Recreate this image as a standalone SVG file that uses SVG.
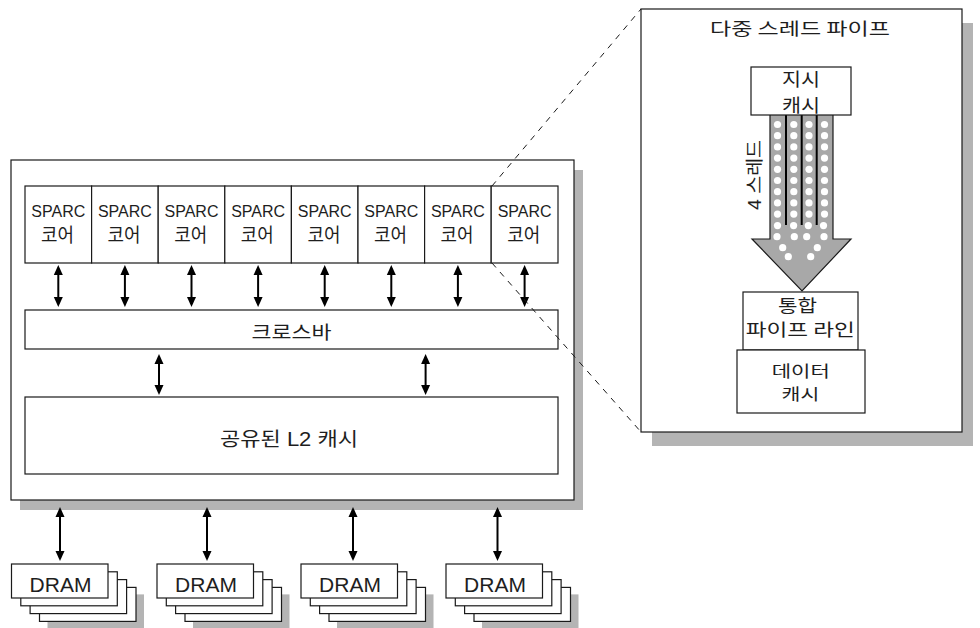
<svg xmlns="http://www.w3.org/2000/svg" width="980" height="628" viewBox="0 0 980 628">
<style>
.box{fill:#fff;stroke:#1a1a1a;stroke-width:1.2}
.shadow{fill:#b4b4b4}
.t{font-family:"Liberation Sans","Noto Sans CJK KR",Arial,sans-serif;fill:#1e1e1e;text-anchor:middle}
.k{font-family:"Noto Sans CJK KR","Liberation Sans",sans-serif;fill:#1e1e1e;text-anchor:middle}
.arr{stroke:#000;stroke-width:2;fill:none;marker-start:url(#ah);marker-end:url(#ah)}
.dash{stroke:#1a1a1a;stroke-width:1;stroke-dasharray:6 6;fill:none}
.dot{fill:#fff}
</style>
<defs>
<marker id="ah" viewBox="0 0 10 10" refX="7" refY="5" markerWidth="10" markerHeight="10" markerUnits="userSpaceOnUse" orient="auto-start-reverse">
<path d="M0,0.5 L10,5 L0,9.5 z" fill="#000"/>
</marker>
</defs>

<g id="chip">
<rect class="shadow" x="20" y="170" width="563" height="340"/>
<rect class="box" x="11" y="160" width="563" height="340"/>
</g>

<g id="cores">
<g id="core1"><rect class="box" x="25" y="186" width="66.6" height="77"/><text class="t" x="58.3" y="217" font-size="16">SPARC</text><text class="k" x="57.5" y="242" font-size="19.5" textLength="33" lengthAdjust="spacingAndGlyphs">코어</text></g>
<g id="core2"><rect class="box" x="91.6" y="186" width="66.6" height="77"/><text class="t" x="124.9" y="217" font-size="16">SPARC</text><text class="k" x="124.1" y="242" font-size="19.5" textLength="33" lengthAdjust="spacingAndGlyphs">코어</text></g>
<g id="core3"><rect class="box" x="158.2" y="186" width="66.6" height="77"/><text class="t" x="191.5" y="217" font-size="16">SPARC</text><text class="k" x="190.7" y="242" font-size="19.5" textLength="33" lengthAdjust="spacingAndGlyphs">코어</text></g>
<g id="core4"><rect class="box" x="224.8" y="186" width="66.6" height="77"/><text class="t" x="258.1" y="217" font-size="16">SPARC</text><text class="k" x="257.3" y="242" font-size="19.5" textLength="33" lengthAdjust="spacingAndGlyphs">코어</text></g>
<g id="core5"><rect class="box" x="291.4" y="186" width="66.6" height="77"/><text class="t" x="324.7" y="217" font-size="16">SPARC</text><text class="k" x="323.9" y="242" font-size="19.5" textLength="33" lengthAdjust="spacingAndGlyphs">코어</text></g>
<g id="core6"><rect class="box" x="358" y="186" width="66.6" height="77"/><text class="t" x="391.3" y="217" font-size="16">SPARC</text><text class="k" x="390.5" y="242" font-size="19.5" textLength="33" lengthAdjust="spacingAndGlyphs">코어</text></g>
<g id="core7"><rect class="box" x="424.6" y="186" width="66.6" height="77"/><text class="t" x="457.9" y="217" font-size="16">SPARC</text><text class="k" x="457.1" y="242" font-size="19.5" textLength="33" lengthAdjust="spacingAndGlyphs">코어</text></g>
<g id="core8"><rect class="box" x="491.2" y="186" width="66.8" height="77"/><text class="t" x="524.6" y="217" font-size="16">SPARC</text><text class="k" x="523.8" y="242" font-size="19.5" textLength="33" lengthAdjust="spacingAndGlyphs">코어</text></g>
</g>

<g id="crossbar"><rect class="box" x="25" y="310" width="533" height="39"/><text class="k" x="291.5" y="339" font-size="18.5" textLength="80" lengthAdjust="spacingAndGlyphs">크로스바</text></g>

<g id="l2"><rect class="box" x="25" y="397" width="533" height="77"/><text class="t" x="289" y="445.5" font-size="19.5" textLength="138" lengthAdjust="spacingAndGlyphs">공유된 L2 캐시</text></g>

<g id="dram1">
<rect class="shadow" x="47.5" y="594.4" width="96.5" height="34"/>
<rect class="box" x="39.5" y="587.4" width="96.5" height="34"/>
<rect class="box" x="30.1" y="579.6" width="96.5" height="34"/>
<rect class="box" x="20.8" y="571.8" width="96.5" height="34"/>
<rect class="box" x="11.5" y="564" width="96.5" height="34"/>
<text class="t" x="60.5" y="591.5" font-size="21">DRAM</text>
</g>
<g id="dram2">
<rect class="shadow" x="193" y="594.4" width="96.5" height="34"/>
<rect class="box" x="185" y="587.4" width="96.5" height="34"/>
<rect class="box" x="175.6" y="579.6" width="96.5" height="34"/>
<rect class="box" x="166.3" y="571.8" width="96.5" height="34"/>
<rect class="box" x="157" y="564" width="96.5" height="34"/>
<text class="t" x="206" y="591.5" font-size="21">DRAM</text>
</g>
<g id="dram3">
<rect class="shadow" x="337" y="594.4" width="96.5" height="34"/>
<rect class="box" x="329" y="587.4" width="96.5" height="34"/>
<rect class="box" x="319.6" y="579.6" width="96.5" height="34"/>
<rect class="box" x="310.3" y="571.8" width="96.5" height="34"/>
<rect class="box" x="301" y="564" width="96.5" height="34"/>
<text class="t" x="350" y="591.5" font-size="21">DRAM</text>
</g>
<g id="dram4">
<rect class="shadow" x="482" y="594.4" width="96.5" height="34"/>
<rect class="box" x="474" y="587.4" width="96.5" height="34"/>
<rect class="box" x="464.6" y="579.6" width="96.5" height="34"/>
<rect class="box" x="455.3" y="571.8" width="96.5" height="34"/>
<rect class="box" x="446" y="564" width="96.5" height="34"/>
<text class="t" x="495" y="591.5" font-size="21">DRAM</text>
</g>

<g id="connectors">
<line class="arr" x1="58.3" y1="268" x2="58.3" y2="304"/>
<line class="arr" x1="124.9" y1="268" x2="124.9" y2="304"/>
<line class="arr" x1="191.5" y1="268" x2="191.5" y2="304"/>
<line class="arr" x1="258.1" y1="268" x2="258.1" y2="304"/>
<line class="arr" x1="324.7" y1="268" x2="324.7" y2="304"/>
<line class="arr" x1="391.3" y1="268" x2="391.3" y2="304"/>
<line class="arr" x1="457.9" y1="268" x2="457.9" y2="304"/>
<line class="arr" x1="524.6" y1="268" x2="524.6" y2="304"/>
<line class="arr" x1="159" y1="357" x2="159" y2="392"/>
<line class="arr" x1="425.6" y1="357" x2="425.6" y2="392"/>
<line class="arr" x1="60" y1="510" x2="60" y2="558"/>
<line class="arr" x1="207" y1="510" x2="207" y2="558"/>
<line class="arr" x1="353" y1="510" x2="353" y2="558"/>
<line class="arr" x1="497.5" y1="510" x2="497.5" y2="558"/>
<line class="dash" x1="492" y1="186" x2="641" y2="9"/>
<line class="dash" x1="492" y1="263" x2="641" y2="432"/>
</g>

<g id="pipeline-panel">
<rect class="shadow" x="652" y="23" width="321" height="423"/>
<rect class="box" x="641" y="9" width="321" height="423"/>
<text class="k" x="800" y="35" font-size="17" textLength="180" lengthAdjust="spacingAndGlyphs">다중 스레드 파이프</text>
</g>

<g id="thread-arrow">
<path d="M770,115 V239 H752 L802,291 L851,239 H833 V115" fill="#a8a8a8" stroke="#1a1a1a" stroke-width="1.2"/>
<g stroke="#000" stroke-width="2">
<line x1="786" y1="115" x2="786" y2="225"/>
<line x1="801.7" y1="115" x2="801.7" y2="225"/>
<line x1="816.7" y1="115" x2="816.7" y2="225"/>
</g>
<g class="dot">
<circle cx="777.5" cy="124.5" r="3.6"/><circle cx="793.8" cy="124.5" r="3.6"/><circle cx="809" cy="124.5" r="3.6"/><circle cx="824.5" cy="124.5" r="3.6"/>
<circle cx="777.5" cy="135.7" r="3.6"/><circle cx="793.8" cy="135.7" r="3.6"/><circle cx="809" cy="135.7" r="3.6"/><circle cx="824.5" cy="135.7" r="3.6"/>
<circle cx="777.5" cy="146.9" r="3.6"/><circle cx="793.8" cy="146.9" r="3.6"/><circle cx="809" cy="146.9" r="3.6"/><circle cx="824.5" cy="146.9" r="3.6"/>
<circle cx="777.5" cy="158.1" r="3.6"/><circle cx="793.8" cy="158.1" r="3.6"/><circle cx="809" cy="158.1" r="3.6"/><circle cx="824.5" cy="158.1" r="3.6"/>
<circle cx="777.5" cy="169.3" r="3.6"/><circle cx="793.8" cy="169.3" r="3.6"/><circle cx="809" cy="169.3" r="3.6"/><circle cx="824.5" cy="169.3" r="3.6"/>
<circle cx="777.5" cy="180.5" r="3.6"/><circle cx="793.8" cy="180.5" r="3.6"/><circle cx="809" cy="180.5" r="3.6"/><circle cx="824.5" cy="180.5" r="3.6"/>
<circle cx="777.5" cy="191.7" r="3.6"/><circle cx="793.8" cy="191.7" r="3.6"/><circle cx="809" cy="191.7" r="3.6"/><circle cx="824.5" cy="191.7" r="3.6"/>
<circle cx="777.5" cy="202.9" r="3.6"/><circle cx="793.8" cy="202.9" r="3.6"/><circle cx="809" cy="202.9" r="3.6"/><circle cx="824.5" cy="202.9" r="3.6"/>
<circle cx="777.5" cy="214.1" r="3.6"/><circle cx="793.8" cy="214.1" r="3.6"/><circle cx="809" cy="214.1" r="3.6"/><circle cx="824.5" cy="214.1" r="3.6"/>
<circle cx="777.5" cy="225.6" r="3.6"/><circle cx="793.6" cy="225.6" r="3.6"/><circle cx="808.3" cy="225.6" r="3.6"/><circle cx="823.5" cy="225.6" r="3.6"/>
<circle cx="777" cy="236.7" r="3.6"/><circle cx="794.3" cy="236.7" r="3.6"/><circle cx="806.7" cy="236.7" r="3.6"/><circle cx="824" cy="236.7" r="3.6"/>
<circle cx="782.7" cy="247.7" r="3.6"/><circle cx="817.3" cy="247.7" r="3.6"/>
<circle cx="788.3" cy="256.7" r="3.6"/><circle cx="810.7" cy="256.7" r="3.6"/>
</g>
<text class="t" transform="translate(761,175) rotate(-90)" x="0" y="0" font-size="18" textLength="70" lengthAdjust="spacingAndGlyphs">4 스레드</text>
</g>

<g id="icache"><rect class="box" x="751" y="67" width="100" height="48"/><text class="k" font-size="18.5"><tspan x="801" y="86.3" textLength="38" lengthAdjust="spacingAndGlyphs">지시</tspan><tspan x="801" y="111.8" textLength="38" lengthAdjust="spacingAndGlyphs">캐시</tspan></text></g>

<g id="unified-pipeline"><rect class="box" x="743" y="292" width="115" height="58"/><text class="k" x="797.5" y="312.3" font-size="17.5" textLength="39" lengthAdjust="spacingAndGlyphs">통합</text><text class="k" x="800.3" y="335.5" font-size="17.5" textLength="109" lengthAdjust="spacingAndGlyphs">파이프 라인</text></g>

<g id="dcache"><rect class="box" x="737" y="350" width="128" height="63"/><text class="k" x="800.8" y="376.5" font-size="16" textLength="58" lengthAdjust="spacingAndGlyphs">데이터</text><text class="k" x="800.4" y="400" font-size="16" textLength="37.6" lengthAdjust="spacingAndGlyphs">캐시</text></g>
</svg>
